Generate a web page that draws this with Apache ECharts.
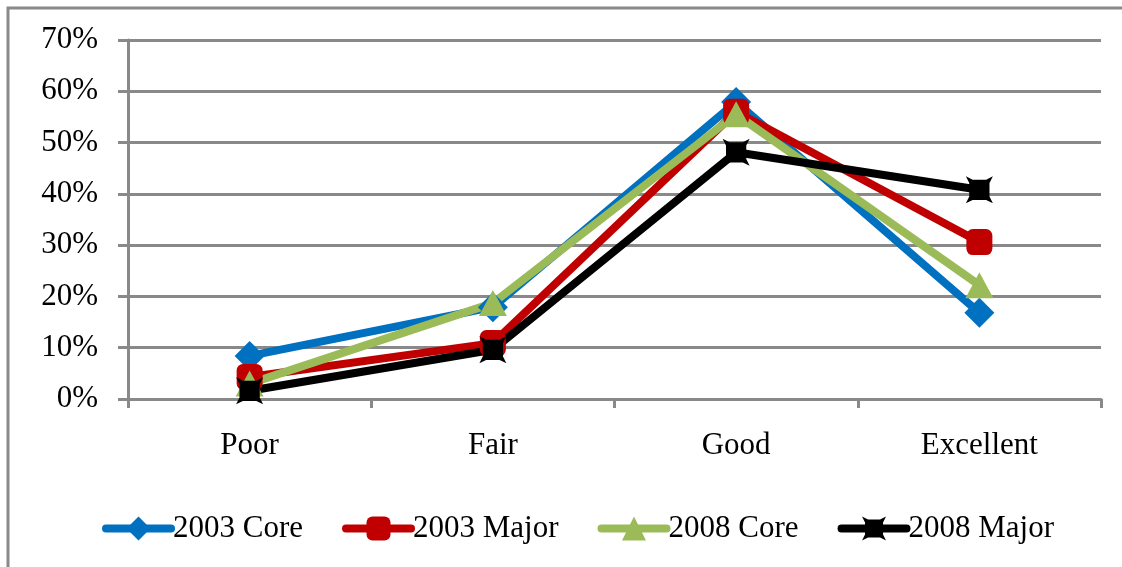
<!DOCTYPE html>
<html>
<head>
<meta charset="utf-8">
<script src="https://cdn.jsdelivr.net/npm/echarts@6/dist/echarts.min.js"></script>
<style>
  html, body { margin: 0; padding: 0; background: #fff; }
  #chart { width: 1122px; height: 567px; }
</style>
</head>
<body>
<div id="chart"></div>
<script>
// Ratings by category, in percent
const categories = ['Poor', 'Fair', 'Good', 'Excellent'];
const core2003 = [8.4, 17.9, 57.9, 16.8];
const major2003 = [4.3, 10.9, 56.0, 30.6];
const core2008 = [3.0, 18.7, 55.5, 22.2];
const major2008 = [1.6, 9.6, 48.1, 40.8];
const seriesNames = ['2003 Core', '2003 Major', '2008 Core', '2008 Major'];

const FONT = '"Liberation Serif", "Times New Roman", serif';
const GRID_GRAY = '#898989';

// square marker with small corner spurs
const squareX = 'path://M0,0 L5,2.5 L15,2.5 L20,0 L17.5,5 L17.5,15 L20,20 L15,17.5 L5,17.5 L0,20 L2.5,15 L2.5,5 Z';

function lineSeries(name, data, color, symbol, size) {
  return {
    name: name,
    type: 'line',
    data: data,
    symbol: symbol,
    symbolSize: size,
    showAllSymbol: true,
    lineStyle: { color: color, width: 8 },
    itemStyle: { color: color, borderWidth: 0 },
    emphasis: { disabled: true },
    animation: false
  };
}

const chart = echarts.init(document.getElementById('chart'), null, { renderer: 'canvas' });
chart.setOption({
  backgroundColor: '#fff',
  animation: false,
  graphic: [{
    type: 'rect',
    shape: { x: 8, y: 8, width: 1300, height: 800 },
    style: { fill: 'none', stroke: GRID_GRAY, lineWidth: 3 },
    silent: true
  }],
  grid: { left: 128, right: 21, top: 40, bottom: 168, containLabel: false },
  xAxis: {
    type: 'category',
    data: categories,
    boundaryGap: true,
    axisLine: { show: true, lineStyle: { color: GRID_GRAY, width: 3 } },
    axisTick: { show: true, length: 9, alignWithLabel: false, lineStyle: { color: GRID_GRAY, width: 3 } },
    axisLabel: { color: '#000', fontFamily: FONT, fontSize: 31, margin: 31 },
    splitLine: { show: false }
  },
  yAxis: {
    type: 'value',
    min: 0,
    max: 70,
    interval: 10,
    axisLine: { show: true, lineStyle: { color: GRID_GRAY, width: 3 } },
    axisTick: { show: true, length: 10, lineStyle: { color: GRID_GRAY, width: 3 } },
    axisLabel: { color: '#000', fontFamily: FONT, fontSize: 31, margin: 30, formatter: v => v + '%' },
    splitLine: { show: true, lineStyle: { color: GRID_GRAY, width: 3 } }
  },
  legend: {
    left: 97,
    top: 508,
    itemWidth: 65,
    itemHeight: 30,
    itemGap: 39,
    lineStyle: { width: 8, cap: 'round' },
    textStyle: { color: '#000', fontFamily: FONT, fontSize: 31, padding: [0, 0, 0, -3] },
    data: seriesNames
  },
  series: [
    lineSeries(seriesNames[0], core2003, '#0070C0', 'diamond', [30, 30]),
    lineSeries(seriesNames[1], major2003, '#C00000', 'roundRect', [26, 26]),
    lineSeries(seriesNames[2], core2008, '#9BBB59', 'triangle', [28, 26]),
    lineSeries(seriesNames[3], major2008, '#000000', squareX, [27, 27])
  ]
});
</script>
</body>
</html>
